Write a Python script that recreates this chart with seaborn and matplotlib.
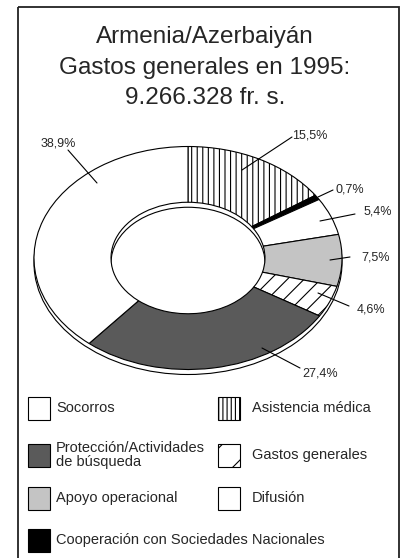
import matplotlib
matplotlib.use("Agg")
import matplotlib.pyplot as plt
from matplotlib.patches import Circle, Rectangle
import seaborn as sns

sns.set_theme(style="white")
plt.rcParams["font.family"] = ["Liberation Sans", "DejaVu Sans"]
plt.rcParams["hatch.linewidth"] = 0.8

title = "Armenia/Azerbaiyán\nGastos generales en 1995:\n9.266.328 fr. s."

# wedges clockwise from 12 o'clock
categories = ["Asistencia médica", "Cooperación con Sociedades Nacionales", "Difusión",
              "Apoyo operacional", "Gastos generales",
              "Protección/Actividades\nde búsqueda", "Socorros"]
shares = [15.5, 0.7, 5.4, 7.5, 4.6, 27.4, 38.9]
pct_labels = ["15,5%", "0,7%", "5,4%", "7,5%", "4,6%", "27,4%", "38,9%"]
fills = ["white", "black", "white", "#c4c4c4", "white", "#5a5a5a", "white"]
hatches = ["|||", "", "", "", "//", "", ""]

# legend, row by row (two columns)
legend_order = ["Socorros", "Asistencia médica",
                "Protección/Actividades\nde búsqueda", "Gastos generales",
                "Apoyo operacional", "Difusión",
                "Cooperación con Sociedades Nacionales"]

# layout in image pixels
W, H = 406, 558
cx, cy, Rx, Ry = 188, 258, 154, 111.5
rim = 5 / Ry
label_xy = [(310, 135), (350, 190), (378, 212), (376, 258), (371, 310), (320, 373), (58, 143)]
leaders = [((292, 137), (242, 170)), ((333, 190), (318, 197)), ((355, 214), (320, 221)),
           ((350, 257), (330, 260)), ((349, 306), (318, 293)), ((300, 368), (262, 348)),
           ((68, 150), (97, 183))]
leg_rows = [408, 455, 498, 540]
leg_cols = [28, 218]

fig = plt.figure(figsize=(W / 100, H / 100), dpi=100)

ax = fig.add_axes([0, 0, 1, 1])
wedges, _ = ax.pie(shares, colors=fills, startangle=90, counterclock=False, radius=1,
                   wedgeprops=dict(width=0.5, edgecolor="black", linewidth=0.8))
for w, h in zip(wedges, hatches):
    w.set_hatch(h)

# side of the ring (3d look)
ax.add_patch(Circle((0, -rim), 1, facecolor="white", edgecolor="black", lw=0.8, zorder=0))
wall = Circle((0, -rim), 0.5, fill=False, edgecolor="black", lw=0.8, zorder=3)
ax.add_patch(wall)
wall.set_clip_path(Circle((0, 0), 0.5, transform=ax.transData))

ax.set_aspect("auto")
ax.set_xlim(-cx / Rx, (W - cx) / Rx)
ax.set_ylim((cy - H) / Ry, cy / Ry)
ax.axis("off")

# overlay in pixel coordinates for text / frame / legend
ov = fig.add_axes([0, 0, 1, 1])
ov.set_xlim(0, W)
ov.set_ylim(H, 0)
ov.axis("off")

ov.add_patch(Rectangle((18, 7), 381, 570, fill=False, edgecolor="#222222", lw=1.3))
ov.text(205, 68, title, ha="center", va="center", fontsize=17.5, linespacing=1.5)

for lab, (tx, ty), ((x0, y0), (x1, y1)) in zip(pct_labels, label_xy, leaders):
    ov.text(tx, ty, lab, ha="center", va="center", fontsize=9)
    ov.plot([x0, x1], [y0, y1], color="black", lw=0.8)

for i, name in enumerate(legend_order):
    k = categories.index(name)
    x = leg_cols[i % 2]
    y = leg_rows[i // 2]
    ov.add_patch(Rectangle((x, y - 11.5), 22, 23, facecolor=fills[k], edgecolor="black",
                           lw=0.8, hatch=hatches[k].replace("//", "/").replace("|||", "||||")))
    ov.text(x + 28 if i % 2 == 0 else x + 34, y, name, ha="left", va="center",
            fontsize=10.5, linespacing=1.05)

fig.savefig("out.png", dpi=100)
